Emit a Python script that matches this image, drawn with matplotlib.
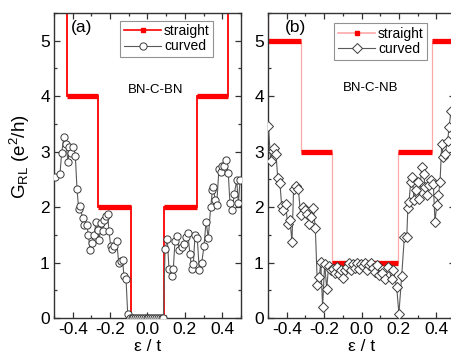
"""Hall-bar conductance G_RL vs energy: straight vs curved ribbons, panels (a) and (b)."""

import matplotlib
matplotlib.use('Agg')
import matplotlib.pyplot as plt
from matplotlib.lines import Line2D
from matplotlib.ticker import MultipleLocator


# panel (a): BN-C-BN
A_STEP_EDGES = [-0.5, -0.432, -0.263, -0.09, 0.088, 0.263, 0.432, 0.5]
A_STEP_LEVELS = [6, 4, 2, 0, 2, 4, 6]

A_CURVED_X = [
    -0.495, -0.468, -0.459, -0.447, -0.436, -0.425, -0.418, -0.409, -0.397, -0.386,
    -0.377, -0.368, -0.361, -0.347, -0.338, -0.325, -0.316, -0.307, -0.297, -0.286,
    -0.275, -0.266, -0.258, -0.249, -0.240, -0.231, -0.222, -0.213, -0.206, -0.197,
    -0.188, -0.177, -0.165, -0.154, -0.143, -0.133, -0.126, -0.115, -0.106,
    -0.095, -0.085, -0.075, -0.065, -0.055, -0.045, -0.035, -0.025, -0.015, -0.005,
    0.005, 0.015, 0.025, 0.035, 0.045, 0.055, 0.065, 0.075, 0.085,
    0.094, 0.106, 0.115, 0.129, 0.138, 0.147, 0.156, 0.170, 0.183, 0.195,
    0.206, 0.215, 0.227, 0.236, 0.245, 0.254, 0.266, 0.277, 0.290, 0.302,
    0.313, 0.325, 0.338, 0.347, 0.352, 0.361, 0.370, 0.382, 0.391, 0.400,
    0.409, 0.420, 0.432, 0.441, 0.454, 0.464, 0.477, 0.486, 0.495,
]
A_CURVED_Y = [
    2.54, 2.60, 2.98, 3.27, 3.14, 2.81, 3.08, 2.97, 3.08, 2.92,
    2.33, 1.96, 2.02, 1.80, 1.67, 1.68, 1.50, 1.22, 1.35, 1.49,
    1.73, 1.58, 1.41, 1.72, 1.56, 1.76, 1.84, 1.87, 1.56, 1.30,
    1.24, 1.30, 1.39, 1.00, 1.02, 1.04, 0.75, 0.71, 0.08,
    0, 0, 0, 0, 0, 0, 0, 0, 0, 0,
    0, 0, 0, 0, 0, 0, 0, 0, 0,
    1.24, 1.42, 0.88, 0.76, 0.89, 1.38, 1.47, 1.22, 1.28, 1.34,
    1.46, 1.54, 1.16, 0.89, 0.97, 1.49, 1.45, 0.86, 1.00, 1.29,
    1.73, 1.45, 2.00, 2.30, 2.37, 2.13, 2.04, 2.69, 2.64, 2.75,
    2.74, 2.85, 2.61, 2.07, 1.94, 2.24, 2.48, 2.07, 2.48,
]

# panel (b): BN-C-NB
B_STEP_EDGES = [-0.52, -0.5, -0.323, -0.156, 0.197, 0.379, 0.52]
B_STEP_LEVELS = [7, 5, 3, 1, 3, 5]

B_CURVED_X = [
    -0.498, -0.486, -0.475, -0.466, -0.457, -0.448, -0.436, -0.427, -0.418, -0.406,
    -0.395, -0.382, -0.372, -0.363, -0.352, -0.338, -0.325, -0.315, -0.302, -0.290,
    -0.279, -0.270, -0.258, -0.247, -0.236, -0.225, -0.218, -0.208, -0.197, -0.186,
    -0.176, -0.165, -0.151, -0.140, -0.129, -0.119, -0.108, -0.097, -0.086, -0.076,
    -0.065, -0.054, -0.044, -0.033, -0.022, -0.012, -0.001, 0.010, 0.020, 0.031,
    0.042, 0.053, 0.063, 0.074, 0.085, 0.095, 0.108, 0.126, 0.143, 0.161,
    0.170, 0.188, 0.200, 0.215, 0.229, 0.242, 0.248, 0.254, 0.263, 0.272,
    0.281, 0.290, 0.301, 0.309, 0.322, 0.333, 0.340, 0.349, 0.361, 0.372,
    0.384, 0.393, 0.402, 0.411, 0.420, 0.429, 0.438, 0.447, 0.461, 0.468,
    0.479,
]
B_CURVED_Y = [
    3.47, 2.84, 3.02, 3.07, 2.95, 2.53, 2.43, 2.02, 1.94, 2.06,
    1.69, 1.76, 1.37, 2.33, 2.38, 2.33, 1.85, 2.01, 1.95, 1.88,
    1.70, 1.82, 1.98, 1.63, 0.59, 0.74, 1.01, 0.20, 0.98, 0.53,
    0.94, 0.86, 0.88, 0.82, 0.92, 0.80, 0.86, 0.73, 0.86, 0.92,
    1.00, 0.86, 0.97, 0.91, 1.00, 0.88, 0.98, 0.94, 1.00, 0.86,
    0.95, 1.00, 0.91, 0.83, 0.95, 0.77, 0.82, 0.71, 0.92, 0.71,
    0.86, 0.56, 0.08, 0.76, 1.46, 1.46, 1.99, 2.09, 2.45, 2.54,
    2.13, 2.30, 2.45, 2.15, 2.72, 2.60, 2.36, 2.21, 2.39, 2.48,
    2.42, 1.73, 2.03, 2.21, 2.45, 3.14, 2.90, 2.96, 3.20, 3.44,
    3.74,
]

FIG_W, FIG_H = 452, 362
RED = '#ff0000'
GREY = '#5a5a5a'

plt.rcParams['font.family'] = ['Liberation Sans', 'DejaVu Sans']
plt.rcParams['axes.unicode_minus'] = False
plt.rcParams['mathtext.fontset'] = 'custom'
plt.rcParams['mathtext.rm'] = 'Liberation Sans'
plt.rcParams['mathtext.it'] = 'Liberation Sans'


def style_axes(ax):
    ax.set_xlim(-0.5, 0.5)
    ax.set_ylim(0, 5.5)
    ax.xaxis.set_major_locator(MultipleLocator(0.2))
    ax.xaxis.set_minor_locator(MultipleLocator(0.1))
    ax.yaxis.set_major_locator(MultipleLocator(1))
    ax.yaxis.set_minor_locator(MultipleLocator(0.5))
    ax.tick_params(which = 'both', direction = 'in', top = True, right = True,
                   color = '#333333', width = 0.9)
    ax.tick_params(which = 'major', length = 4.5, labelsize = 12.5, pad = 3)
    ax.tick_params(which = 'minor', length = 2.5)
    ax.set_xticklabels([f'{v:.1f}' for v in ax.get_xticks()])
    for spine in ax.spines.values():
        spine.set_color('#333333')
        spine.set_linewidth(1.0)
    ax.set_xlabel('ε / t', fontsize = 12.5, labelpad = 1)


def draw_panel(ax, edges, levels, xs, ys, marker, riser_color, riser_width,
               tag, name, name_xy, legend_anchor):
    ax.stairs(levels, edges, baseline = None, color = riser_color, linewidth = riser_width, zorder = 2)
    ax.hlines(levels, edges[:-1], edges[1:], color = RED, linewidth = 3.8, zorder = 2)
    size = 5.2 if marker == 'o' else 4.8
    ax.plot(xs, ys, color = GREY, linewidth = 0.8, marker = marker, markersize = size,
            markerfacecolor = 'white', markeredgecolor = '#3a3a3a',
            markeredgewidth = 0.7, zorder = 3)
    handles = [
        Line2D([], [], color = riser_color, linewidth = 1.2, marker = 's',
               markersize = 3, markerfacecolor = RED, markeredgecolor = RED),
        Line2D([], [], color = GREY, linewidth = 0.8, marker = marker, markersize = size,
               markerfacecolor = 'white', markeredgecolor = '#3a3a3a', markeredgewidth = 0.7),
    ]
    leg = ax.legend(handles, ['straight', 'curved'], loc = 'upper right',
                    bbox_to_anchor = legend_anchor, fontsize = 10, frameon = True,
                    fancybox = False, borderaxespad = 0, handlelength = 2.7,
                    handletextpad = 0.2, borderpad = 0.25, labelspacing = 0.1)
    leg.get_frame().set_edgecolor('#777777')
    leg.get_frame().set_linewidth(0.8)
    ax.text(0.09, 0.953, tag, transform = ax.transAxes, fontsize = 12.5,
            ha = 'left', va = 'center')
    ax.text(name_xy[0], name_xy[1], name, transform = ax.transAxes, fontsize = 9.5,
            ha = 'center', va = 'center')


fig = plt.figure(figsize = (FIG_W / 100, FIG_H / 100), dpi = 100)
ax_a = fig.add_axes([54 / FIG_W, 44 / FIG_H, 187 / FIG_W, 305 / FIG_H])
ax_b = fig.add_axes([268 / FIG_W, 44 / FIG_H, 187 / FIG_W, 305 / FIG_H])

draw_panel(ax_a, A_STEP_EDGES, A_STEP_LEVELS, A_CURVED_X, A_CURVED_Y, 'o',
           RED, 1.3, '(a)', 'BN-C-BN', (0.543, 0.748), (0.852, 0.975))
draw_panel(ax_b, B_STEP_EDGES, B_STEP_LEVELS, B_CURVED_X, B_CURVED_Y, 'D',
           '#ffa8a8', 0.9, '(b)', 'BN-C-NB', (0.551, 0.754), (0.852, 0.966))

for ax in (ax_a, ax_b):
    style_axes(ax)

ax_a.set_ylabel('G$_{\\mathrm{RL}}$ (e$^2$/h)', fontsize = 13.5, va = 'center')
ax_a.yaxis.set_label_coords(-0.182, 0.53)

fig.savefig('out.png', dpi = 100)
